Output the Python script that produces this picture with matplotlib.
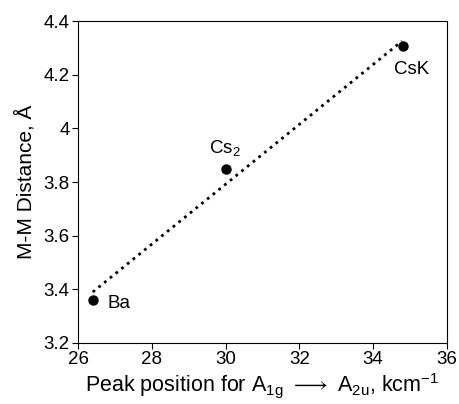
import numpy as np
import matplotlib.pyplot as plt

plt.rcParams['font.family'] = ['Liberation Sans', 'DejaVu Sans']
plt.rcParams['mathtext.default'] = 'regular'

# Данные
names = ['Ba', 'Cs$_2$', 'CsK']
peak = [26.4, 30.0, 34.8]       # kcm-1
dist = [3.36, 3.85, 4.305]      # Å

# линия тренда (концы)
fit_x = [26.4, 34.78]
fit_y = [3.39, 4.325]

fig = plt.figure(figsize=(4.6, 4.04), dpi=100)
ax = fig.add_axes([0.1696, 0.151, 0.802, 0.797])

ax.plot(fit_x, fit_y, linestyle=':', color='black', linewidth=2)
ax.plot(peak, dist, 'o', color='black', markersize=6.5)

ax.text(26.8, 3.349, names[0], fontsize=13.5, va='center', ha='left')
ax.text(29.98, 3.925, names[1], fontsize=13.5, va='center', ha='center')
ax.text(35.05, 4.219, names[2], fontsize=13.5, va='center', ha='center')

ax.set_xlim(26, 36)
ax.set_ylim(3.2, 4.4)
ax.set_xticks(np.arange(26, 37, 2))
ax.set_yticks([3.2, 3.4, 3.6, 3.8, 4.0, 4.2, 4.4])
ax.set_yticklabels(['3.2', '3.4', '3.6', '3.8', '4', '4.2', '4.4'])
ax.tick_params(direction='out', length=4, labelsize=13.5, pad=2)

ax.set_xlabel(r'Peak position for A$_{1g}$ $\longrightarrow$ A$_{2u}$, kcm$^{-1}$', fontsize=15.5, labelpad=2)
ax.set_ylabel('M-M Distance, Å', fontsize=15, labelpad=6)

plt.savefig('out.png', dpi=100)
